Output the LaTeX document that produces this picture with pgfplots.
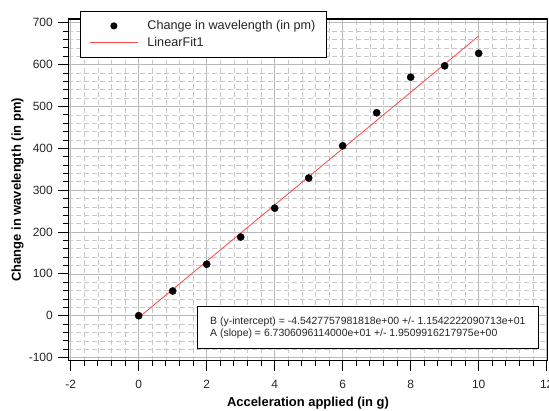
\documentclass[border=0pt]{standalone}
\usepackage{fontspec}
\setmainfont{Liberation Sans}
\usepackage{pgfplots}
\pgfplotsset{compat=1.18}
\definecolor{fitred}{RGB}{255,70,70}
\definecolor{majgrid}{RGB}{185,185,185}
\definecolor{mingrid}{RGB}{200,200,200}
\pgfplotsset{
  dotlegend/.style={legend image code/.code={\path[draw=none] (0bp,0bp) -- (48bp,0bp); \fill[black, draw=none] (24bp,0bp) circle (3.6bp);}},
  linelegend/.style={legend image code/.code={\draw[draw=fitred, color=fitred, line width=1pt] (0bp,0bp) -- (48bp,0bp);}}
}

\begin{document}
\begin{tikzpicture}
\begin{axis}[at={(0,0)}, anchor=south west,
  scale only axis, width=479.4bp, height=341.7bp,
  xmin=-2.07, xmax=12.03, ymin=-107.5, ymax=709,
  xtick={-2,0,...,12}, ytick={-100,0,...,700},
  minor x tick num=4, minor y tick num=4,
  xtick pos=bottom, ytick pos=left, tick align=outside,
  major tick length=10bp, minor tick length=5bp,
  every tick/.style={black, line width=0.8pt},
  grid=both,
  major grid style={majgrid, line width=0.7pt},
  minor grid style={mingrid, line width=0.6pt, dash pattern=on 5bp off 3bp},
  axis line style={black, line width=1.3pt},
  /pgf/number format/assume math mode=true,
  tick label style={font=\fontsize{12}{13}\selectfont, text=black!85},
  xticklabel style={yshift=-6bp},
  yticklabel style={xshift=-2bp},
  xlabel={Acceleration applied (in g)}, ylabel={Change in wavelength (in pm)},
  label style={font=\fontsize{13}{14}\selectfont\bfseries},
  xlabel style={yshift=-2bp},
  ylabel style={yshift=-1.5bp},
  legend style={at={(0.0244,1.0234)}, anchor=north west, draw=black, line width=0.8pt,
    fill=white, inner xsep=9bp, inner ysep=8bp, row sep=4bp,
    font=\fontsize{12.7}{14}\selectfont,
    nodes={inner xsep=2bp, inner ysep=0bp, text height=10bp, text depth=3bp, text=black!85},
    /tikz/every odd column/.append style={column sep=7bp}},
  legend cell align=left]
\addplot[only marks, mark=*, black, mark size=3.6bp, dotlegend]
  coordinates {(0,0) (1,59) (2,123) (3,188) (4,257) (5,329) (6,406) (7,485) (8,570) (9,597) (10,627)};
\addlegendentry{Change in wavelength (in pm)}
\addplot[fitred, line width=0.8pt, no marks, linelegend]
  coordinates {(0,-4.5428) (10,668.52)};
\addlegendentry{LinearFit1}
\node[draw=black, line width=0.8pt, fill=white, anchor=south west, align=left,
  inner sep=0pt, minimum width=340.4bp, minimum height=42bp,
  font=\fontsize{10.5}{12}\selectfont, text=black!85]
  at (rel axis cs:0.269,0.0342)
  {B (y-intercept) = -4.5427757981818e+00 +/- 1.1542222090713e+01\\
   A (slope) = 6.7306096114000e+01 +/- 1.9509916217975e+00};
\end{axis}
\pgfresetboundingbox
\path[use as bounding box] (-68.3bp,-50.3bp) rectangle (480.7bp,360.7bp);
\end{tikzpicture}
\end{document}
